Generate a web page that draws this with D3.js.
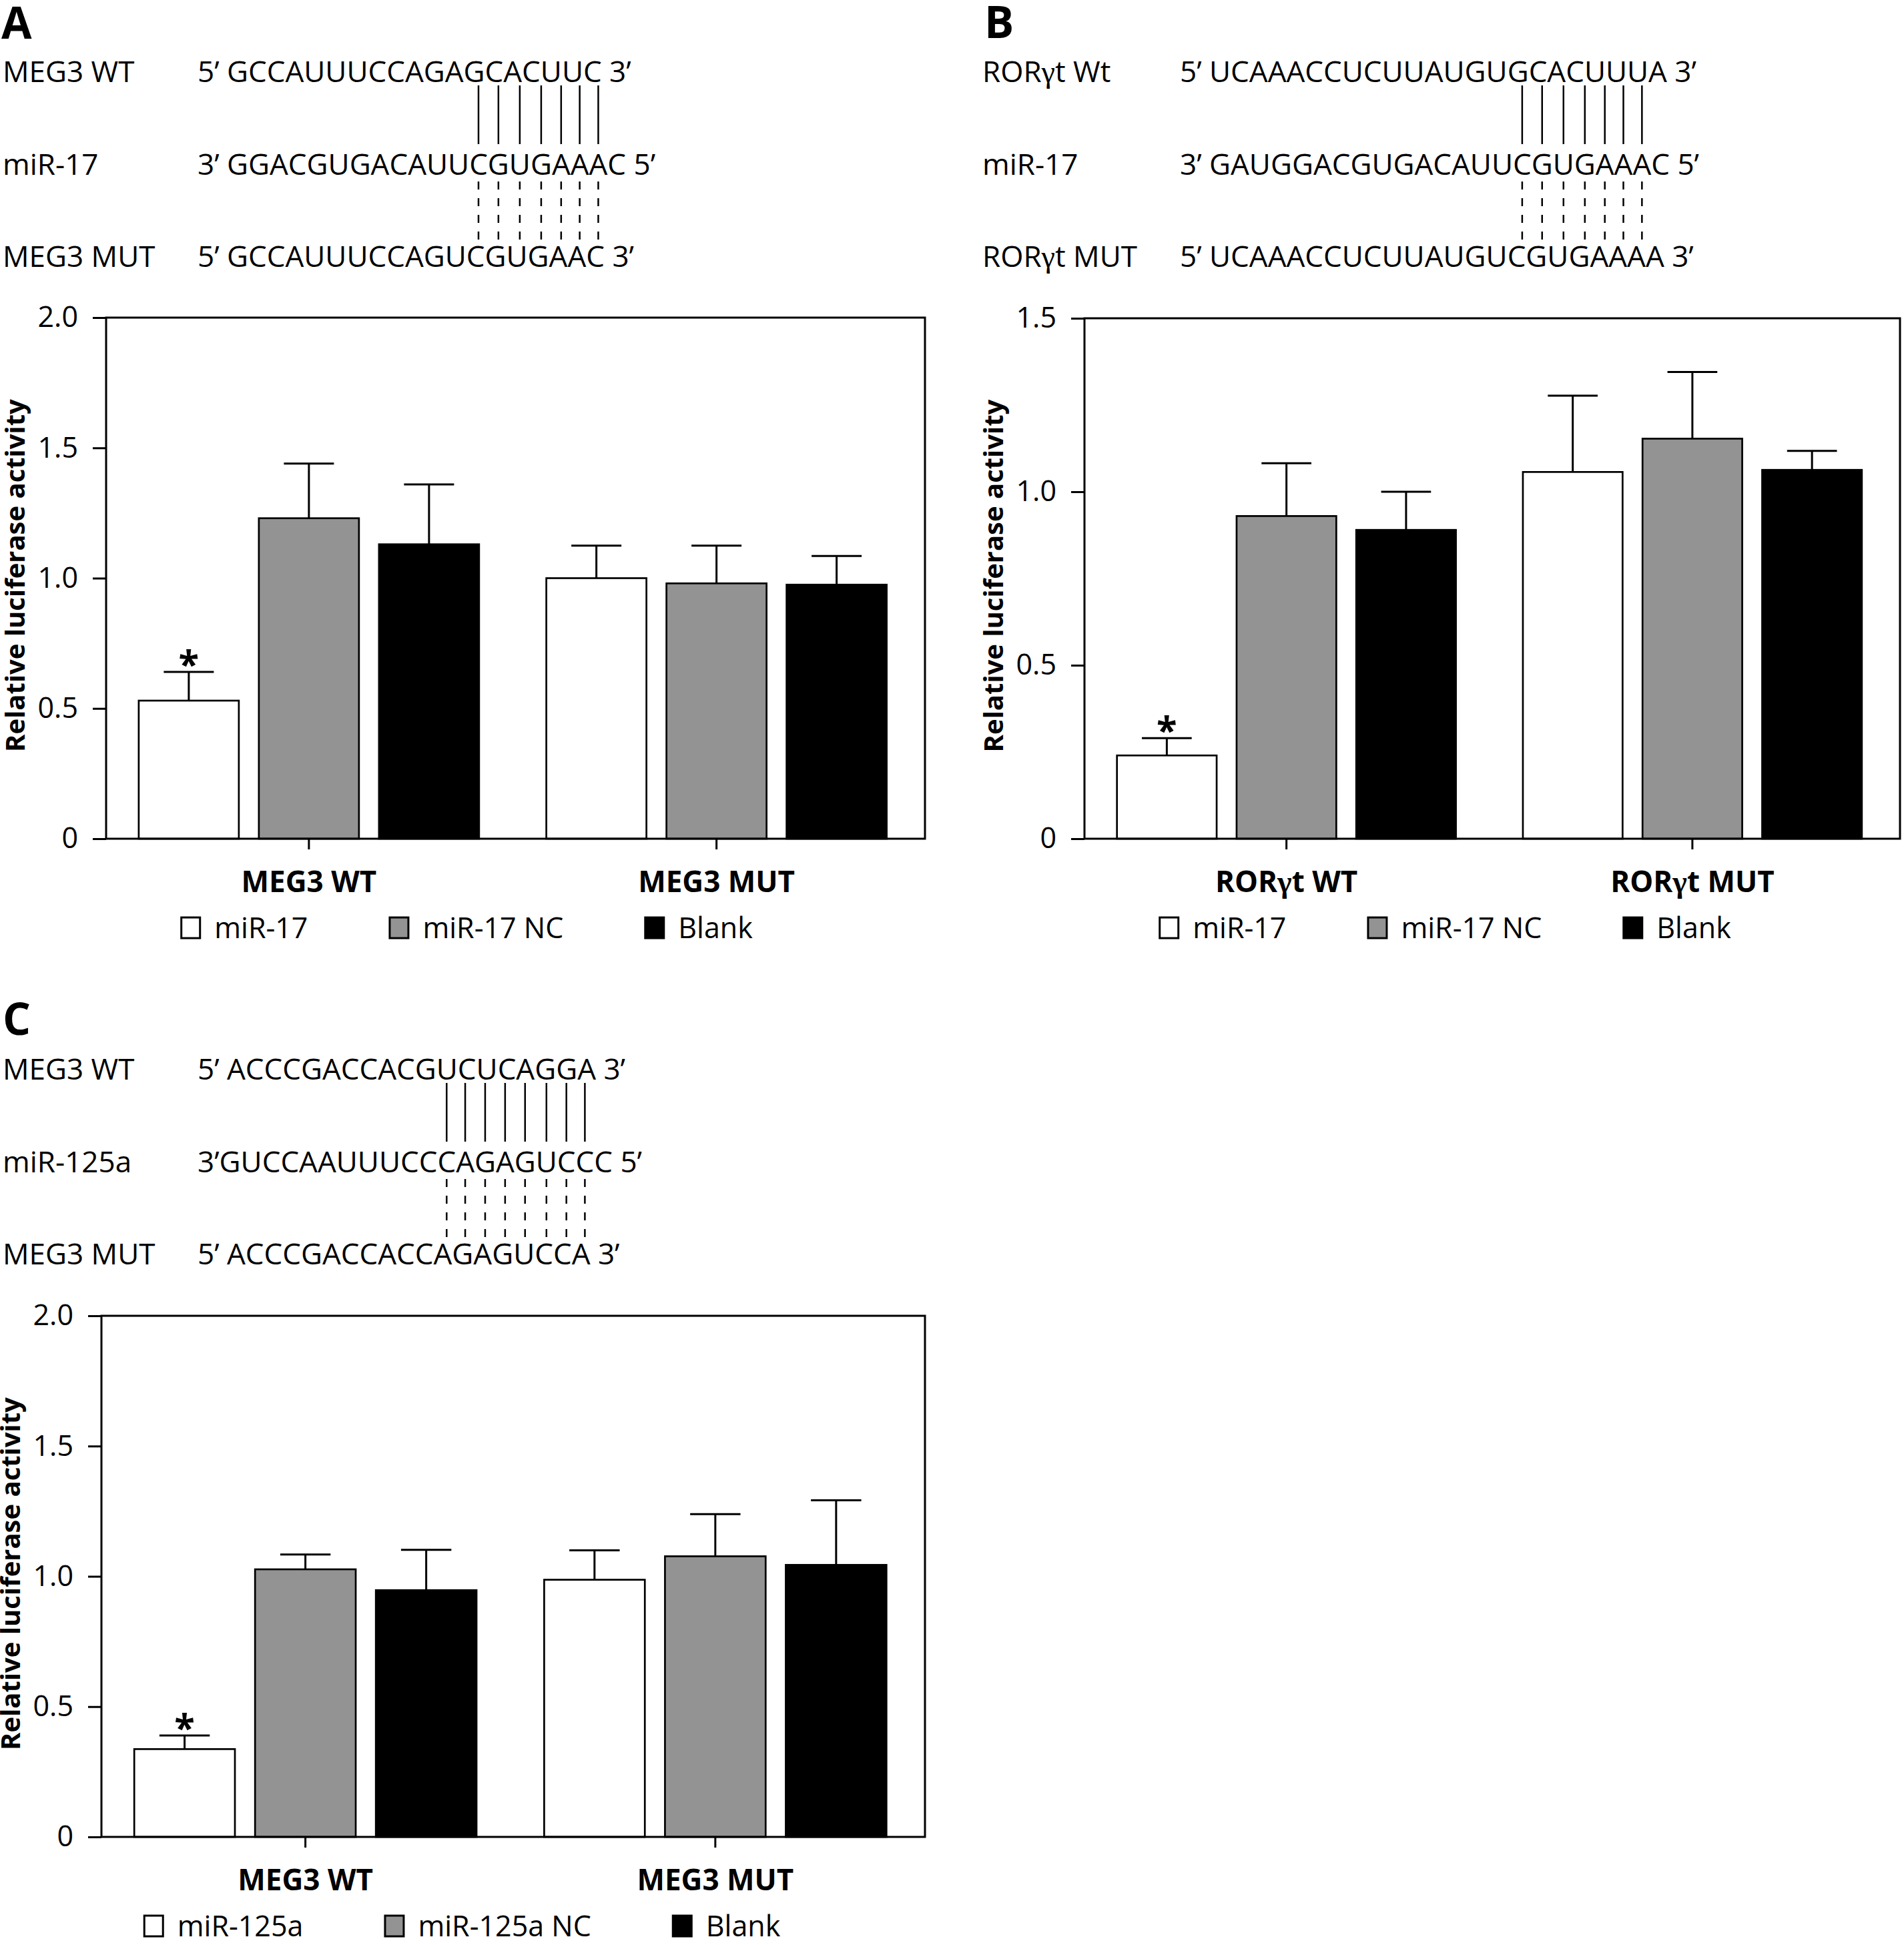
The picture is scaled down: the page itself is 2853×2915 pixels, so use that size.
<!DOCTYPE html>
<html lang="en">
<head>
<meta charset="UTF-8">
<title>Luciferase reporter assay - MEG3 / RORγt / miR-17 / miR-125a</title>
<script src="https://cdnjs.cloudflare.com/ajax/libs/d3/7.8.5/d3.min.js"></script>
<style>
  body { margin: 0; background: #fff; }
  svg text { font-family: "Open Sans", "Noto Sans", sans-serif; fill: #000; }
  .greek { font-family: "Liberation Serif", "DejaVu Serif", serif; }
</style>
</head>
<body>
<svg id="fig" width="2853" height="2915"></svg>
<script>
// ---------- data ----------
const groupsA = ["MEG3 WT", "MEG3 MUT"];
const groupsB = ["RORγt WT", "RORγt MUT"];
const groupsC = ["MEG3 WT", "MEG3 MUT"];

const seriesA = ["miR-17", "miR-17 NC", "Blank"];
const seriesB = ["miR-17", "miR-17 NC", "Blank"];
const seriesC = ["miR-125a", "miR-125a NC", "Blank"];

// mean per group (rows) and series (columns)
const meanA = [[0.53, 1.23, 1.13], [1.00, 0.98, 0.975]];
const errA  = [[0.11, 0.21, 0.23], [0.125, 0.145, 0.11]];
const meanB = [[0.24, 0.93, 0.89], [1.057, 1.153, 1.063]];
const errB  = [[0.05, 0.152, 0.11], [0.22, 0.192, 0.055]];
const meanC = [[0.337, 1.027, 0.947], [0.987, 1.077, 1.044]];
const errC  = [[0.052, 0.057, 0.155], [0.113, 0.162, 0.248]];
// significance marks (*)
const starA = [[1, 0, 0], [0, 0, 0]];
const starB = [[1, 0, 0], [0, 0, 0]];
const starC = [[1, 0, 0], [0, 0, 0]];

const ticksA = [0, 0.5, 1.0, 1.5, 2.0];
const tickLabelsA = ["0", "0.5", "1.0", "1.5", "2.0"];
const ticksB = [0, 0.5, 1.0, 1.5];
const tickLabelsB = ["0", "0.5", "1.0", "1.5"];
const ticksC = [0, 0.5, 1.0, 1.5, 2.0];
const tickLabelsC = ["0", "0.5", "1.0", "1.5", "2.0"];

// sequence alignments above each chart
const rowNamesA = ["MEG3 WT", "miR-17", "MEG3 MUT"];
const seqsA = ["5’ GCCAUUUCCAGAGCACUUC 3’", "3’ GGACGUGACAUUCGUGAAAC 5’", "5’ GCCAUUUCCAGUCGUGAAC 3’"];
const pairsA = [15, 16, 17, 18, 19, 20, 21];
const rowNamesB = ["RORγt Wt", "miR-17", "RORγt MUT"];
const seqsB = ["5’ UCAAACCUCUUAUGUGCACUUUA 3’", "3’ GAUGGACGUGACAUUCGUGAAAC 5’", "5’ UCAAACCUCUUAUGUCGUGAAAA 3’"];
const pairsB = [18, 19, 20, 21, 22, 23, 24];
const rowNamesC = ["MEG3 WT", "miR-125a", "MEG3 MUT"];
const seqsC = ["5’ ACCCGACCACGUCUCAGGA 3’", "3’GUCCAAUUUCCCAGAGUCCC 5’", "5’ ACCCGACCACCAGAGUCCA 3’"];
const pairsC = [13, 14, 15, 16, 17, 18, 19, 20];

const fills = ["#ffffff", "#939393", "#000000"];
const yTitle = "Relative luciferase activity";

const svg = d3.select("#fig");
svg.append("rect").attr("width", 2853).attr("height", 2915).attr("fill", "#fff");

// writes a label, putting the greek gamma in a serif face like the original
function greekText(sel, str) {
  sel.text(null);
  str.split(/(γ)/).forEach(part => {
    if (!part) return;
    const t = sel.append("tspan").text(part);
    if (part === "γ") t.attr("class", "greek").attr("font-size", "1.05em");
  });
}

function drawPanel(p) {
  const g = svg.append("g");

  // --- header: letter + sequence alignment ---
  g.append("text").attr("x", p.lx).attr("y", p.letterY)
    .attr("font-size", 66).attr("font-weight", 700).text(p.letter);

  const rows = [];
  p.rowNames.forEach((name, i) => {
    g.append("text").attr("x", p.hx).attr("y", p.base[i]).attr("font-size", 44)
      .call(greekText, name);
    rows.push(g.append("text").attr("x", p.sx).attr("y", p.base[i]).attr("font-size", 44).text(p.seqs[i]));
  });

  // base-pair ticks, centred on the paired letters of the miRNA row
  const mirNode = rows[1].node();
  p.pairs.forEach(idx => {
    const ext = mirNode.getExtentOfChar(idx);
    const cx = ext.x + ext.width / 2;
    g.append("line").attr("x1", cx).attr("x2", cx)
      .attr("y1", p.base[0] + 5).attr("y2", p.base[0] + 93)
      .attr("stroke", "#000").attr("stroke-width", 2.5);
    g.append("line").attr("x1", cx).attr("x2", cx)
      .attr("y1", p.base[1] + 10).attr("y2", p.base[1] + 98)
      .attr("stroke", "#000").attr("stroke-width", 2.5)
      .attr("stroke-dasharray", "12,13");
  });

  // --- chart ---
  const y = d3.scaleLinear().domain([0, p.ymax]).range([p.y1, p.y0]);
  const xg = d3.scaleBand().domain(p.groups).range([p.x0, p.x1])
    .paddingInner(0.165).paddingOuter(0.087).align(0.46);
  const xs = d3.scaleBand().domain(p.series).range([0, xg.bandwidth()]).paddingInner(1 / 6);

  const cells = [];
  p.groups.forEach((grp, gi) => {
    p.series.forEach((s, si) => {
      cells.push({ grp, s, si, v: p.mean[gi][si], e: p.err[gi][si], star: p.star[gi][si] });
    });
  });

  const bw = xs.bandwidth();
  const cx = d => xg(d.grp) + xs(d.s) + bw / 2;

  // error bars (upper only)
  g.append("g").selectAll("line").data(cells).join("line")
    .attr("x1", cx).attr("x2", cx)
    .attr("y1", d => y(d.v)).attr("y2", d => y(d.v + d.e))
    .attr("stroke", "#000").attr("stroke-width", 3);
  g.append("g").selectAll("line").data(cells).join("line")
    .attr("x1", d => cx(d) - bw / 4).attr("x2", d => cx(d) + bw / 4)
    .attr("y1", d => y(d.v + d.e)).attr("y2", d => y(d.v + d.e))
    .attr("stroke", "#000").attr("stroke-width", 3);

  g.append("g").selectAll("rect").data(cells).join("rect")
    .attr("x", d => xg(d.grp) + xs(d.s))
    .attr("y", d => y(d.v))
    .attr("width", bw)
    .attr("height", d => y(0) - y(d.v))
    .attr("fill", d => fills[d.si])
    .attr("stroke", "#000").attr("stroke-width", 2.7);

  g.append("g").selectAll("text").data(cells.filter(d => d.star)).join("text")
    .attr("x", cx).attr("y", d => y(d.v + d.e) + 8)
    .attr("text-anchor", "middle").attr("font-size", 56).attr("font-weight", 700)
    .text("*");

  // frame
  g.append("rect").attr("x", p.x0).attr("y", p.y0)
    .attr("width", p.x1 - p.x0).attr("height", p.y1 - p.y0)
    .attr("fill", "none").attr("stroke", "#000").attr("stroke-width", 3);

  // y axis
  g.append("g").attr("transform", `translate(${p.x0},0)`)
    .call(d3.axisLeft(y).tickValues(p.ticks).tickFormat((d, i) => p.tickLabels[i])
      .tickSize(20).tickPadding(22))
    .attr("font-family", "Open Sans").attr("font-size", 43)
    .call(a => a.select(".domain").remove())
    .call(a => a.selectAll("line").attr("stroke-width", 3));

  // x axis (group names)
  g.append("g").attr("transform", `translate(0,${p.y1})`)
    .call(d3.axisBottom(xg).tickSize(16).tickPadding(33))
    .attr("font-family", "Open Sans").attr("font-size", 44).attr("font-weight", 700)
    .call(a => a.select(".domain").remove())
    .call(a => a.selectAll("line").attr("stroke-width", 3))
    .call(a => a.selectAll(".tick text").each(function (d) { greekText(d3.select(this), d); }));

  // y title
  g.append("text")
    .attr("transform", `translate(${p.x0 - 122},${(p.y0 + p.y1) / 2 - 4}) rotate(-90)`)
    .attr("text-anchor", "middle").attr("font-size", 40).attr("font-weight", 700)
    .text(yTitle);

  // legend, laid out in a row and centred
  const lg = g.append("g");
  const sq = 31;
  let cur = 0;
  p.series.forEach((s, i) => {
    lg.append("rect").attr("x", cur + 1.5).attr("y", p.y1 + 149 - sq)
      .attr("width", sq - 3).attr("height", sq)
      .attr("fill", fills[i]).attr("stroke", "#000").attr("stroke-width", 3);
    const t = lg.append("text").attr("x", cur + sq + 20).attr("y", p.y1 + 149)
      .attr("font-size", 43).text(s);
    cur += sq + 20 + t.node().getComputedTextLength() + 121;
  });
  const lw = cur - 121;
  lg.attr("transform", `translate(${p.x0 + 540 - lw / 2},0)`);
}

drawPanel({
  letter: "A", lx: 2, letterY: 58, hx: 4, sx: 296, base: [123, 262, 400],
  rowNames: rowNamesA, seqs: seqsA, pairs: pairsA,
  x0: 159, x1: 1386, y0: 476, y1: 1257, ymax: 2.0,
  ticks: ticksA, tickLabels: tickLabelsA,
  groups: groupsA, series: seriesA, mean: meanA, err: errA, star: starA
});
drawPanel({
  letter: "B", lx: 1475, letterY: 57, hx: 1472, sx: 1768, base: [123, 262, 400],
  rowNames: rowNamesB, seqs: seqsB, pairs: pairsB,
  x0: 1625, x1: 2847, y0: 477, y1: 1257, ymax: 1.5,
  ticks: ticksB, tickLabels: tickLabelsB,
  groups: groupsB, series: seriesB, mean: meanB, err: errB, star: starB
});
drawPanel({
  letter: "C", lx: 4, letterY: 1551, hx: 4, sx: 296, base: [1618, 1757, 1895],
  rowNames: rowNamesC, seqs: seqsC, pairs: pairsC,
  x0: 152, x1: 1386, y0: 1972, y1: 2753, ymax: 2.0,
  ticks: ticksC, tickLabels: tickLabelsC,
  groups: groupsC, series: seriesC, mean: meanC, err: errC, star: starC
});
</script>
</body>
</html>
